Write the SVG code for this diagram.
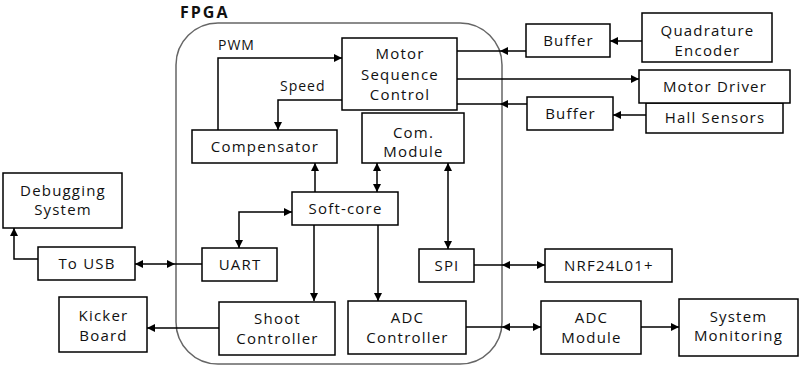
<svg xmlns="http://www.w3.org/2000/svg" width="800" height="366" viewBox="0 0 800 366">
<style>
.box{fill:#fff;stroke:#000;stroke-width:1.5}
.t{font-family:"Open Sans","Liberation Sans",sans-serif;font-size:15px;letter-spacing:1.2px;fill:#111;text-anchor:middle}
.lbl{font-family:"Open Sans","Liberation Sans",sans-serif;font-size:14px;letter-spacing:1px;fill:#111}
.c{fill:none;stroke:#000;stroke-width:1.5}
.a{marker-end:url(#ah)}
.d{marker-start:url(#ah);marker-end:url(#ah)}
</style>
<defs>
<marker id="ah" viewBox="0 0 10 10" refX="10" refY="5" markerWidth="9" markerHeight="8" markerUnits="userSpaceOnUse" orient="auto-start-reverse">
<path d="M0,0 L10,5 L0,10 z" fill="#000"/>
</marker>
</defs>
<rect width="800" height="366" fill="#fff"/>
<g id="fpga">
<rect x="176" y="23" width="326" height="341" rx="42" ry="42" fill="none" stroke="#666" stroke-width="1.5"/>
<text x="180" y="18" style="font-family:'Open Sans','Liberation Sans',sans-serif;font-size:16px;letter-spacing:2px;font-weight:bold;fill:#111">FPGA</text>
</g>
<g id="connectors">
<path class="c a" d="M218,130 V58 H342"/>
<path class="c a" d="M342,100 H278 V130"/>
<path class="c" d="M457,51 H500"/>
<path class="c a" d="M526,51 H500"/>
<path class="c a" d="M642,41 H610"/>
<path class="c a" d="M457,79 H639"/>
<path class="c" d="M457,104 H500"/>
<path class="c a" d="M527,104 H500"/>
<path class="c a" d="M646,115 H613"/>
<path class="c a" d="M315,192 V163"/>
<path class="c d" d="M377,192 V163"/>
<path class="c d" d="M448,249 V163"/>
<path class="c d" d="M292,212 H239 V248"/>
<path class="c a" d="M38,259 H14 V228"/>
<path class="c d" d="M135,264 H175"/>
<path class="c" d="M175,264 H202"/>
<path class="c a" d="M314,225 V301"/>
<path class="c a" d="M378,225 V301"/>
<path class="c" d="M474,265 H502"/>
<path class="c d" d="M502,265 H545"/>
<path class="c" d="M466,327 H502"/>
<path class="c d" d="M502,327 H541"/>
<path class="c a" d="M641,327 H679"/>
<path class="c a" d="M219,328 H147"/>
</g>
<text class="lbl" x="218" y="50">PWM</text>
<text class="lbl" x="280" y="91">Speed</text>
<g id="msc"><rect class="box" x="342" y="38" width="115" height="72"/><text class="t" x="400" y="59">Motor</text><text class="t" x="400" y="80">Sequence</text><text class="t" x="400" y="100">Control</text></g>
<g id="compensator"><rect class="box" x="192" y="130" width="145" height="33"/><text class="t" x="265" y="152">Compensator</text></g>
<g id="com"><rect class="box" x="362" y="113" width="102" height="50"/><text class="t" x="413.5" y="138">Com.</text><text class="t" x="413.5" y="157">Module</text></g>
<g id="buffer1"><rect class="box" x="526" y="24" width="84" height="33"/><text class="t" x="568.5" y="46">Buffer</text></g>
<g id="qe"><rect class="box" x="642" y="13" width="130" height="49"/><text class="t" x="707.5" y="36">Quadrature</text><text class="t" x="707.5" y="56">Encoder</text></g>
<g id="hall"><rect class="box" x="646" y="103" width="137" height="30"/><text class="t" x="715" y="123">Hall Sensors</text></g>
<g id="driver"><rect class="box" x="639" y="70" width="151" height="33"/><text class="t" x="715" y="92">Motor Driver</text></g>
<g id="buffer2"><rect class="box" x="527" y="97" width="86" height="33"/><text class="t" x="570.5" y="119">Buffer</text></g>
<g id="debug"><rect class="box" x="3" y="173" width="119" height="55"/><text class="t" x="63" y="196">Debugging</text><text class="t" x="63" y="215">System</text></g>
<g id="tousb"><rect class="box" x="38" y="247" width="97" height="33"/><text class="t" x="87" y="269">To USB</text></g>
<g id="uart"><rect class="box" x="202" y="248" width="75" height="33"/><text class="t" x="240" y="270">UART</text></g>
<g id="softcore"><rect class="box" x="292" y="192" width="106" height="33"/><text class="t" x="345.5" y="214">Soft-core</text></g>
<g id="spi"><rect class="box" x="419" y="249" width="55" height="33"/><text class="t" x="447" y="271">SPI</text></g>
<g id="nrf"><rect class="box" x="545" y="249" width="127" height="33"/><text class="t" x="609" y="271">NRF24L01+</text></g>
<g id="shoot"><rect class="box" x="219" y="302" width="116" height="53"/><text class="t" x="277.5" y="324">Shoot</text><text class="t" x="277.5" y="344">Controller</text></g>
<g id="adcc"><rect class="box" x="348" y="301" width="118" height="53"/><text class="t" x="407.5" y="323">ADC</text><text class="t" x="407.5" y="343">Controller</text></g>
<g id="adcm"><rect class="box" x="541" y="301" width="100" height="53"/><text class="t" x="591.5" y="323">ADC</text><text class="t" x="591.5" y="343">Module</text></g>
<g id="sysmon"><rect class="box" x="679" y="299" width="119" height="57"/><text class="t" x="738.5" y="322">System</text><text class="t" x="738.5" y="341">Monitoring</text></g>
<g id="kicker"><rect class="box" x="59" y="297" width="88" height="55"/><text class="t" x="103.5" y="321">Kicker</text><text class="t" x="103.5" y="341">Board</text></g>
</svg>
